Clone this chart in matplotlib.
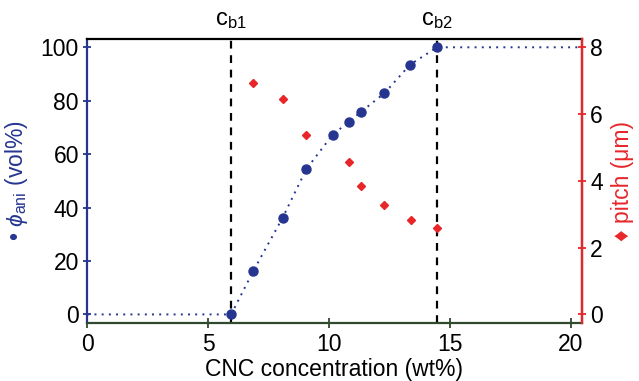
import matplotlib.pyplot as plt
import numpy as np

plt.rcParams['font.family'] = ['Liberation Sans', 'DejaVu Sans']
plt.rcParams['mathtext.fontset'] = 'custom'
plt.rcParams['mathtext.rm'] = 'Liberation Sans'
plt.rcParams['mathtext.it'] = 'Liberation Sans:italic'

# phi_ani (vol%) vs CNC concentration
conc_ani = [5.95, 6.87, 8.08, 9.06, 10.15, 10.81, 11.32, 12.29, 13.35, 14.47]
phi_ani = [0.0, 16.3, 36.2, 54.4, 67.3, 72.0, 75.8, 82.8, 93.5, 100.0]

# pitch (um) vs CNC concentration
conc_pitch = [6.87, 8.08, 9.06, 10.83, 11.32, 12.29, 13.37, 14.47]
pitch = [6.93, 6.45, 5.37, 4.57, 3.84, 3.27, 2.82, 2.60]

c_b1, c_b2 = 5.95, 14.47

blue = '#26358f'
red = '#e8262a'
green = '#2f4a2f'

fig = plt.figure(figsize=(6.39, 3.81), dpi=100)
ax = fig.add_axes([0.1366, 0.153, 0.9103 - 0.1366, 0.8976 - 0.153])
ax2 = ax.twinx()

# guide line through the fraction data
xl = [0] + conc_ani + [20.45]
yl = [0] + phi_ani + [100]
ax.plot(xl, yl, color=blue, lw=1.4, linestyle=(0, (1, 2.7)), zorder=2)
ax.plot(conc_ani, phi_ani, 'o', color=blue, ms=6.5, zorder=4)

ax.axvline(c_b1, color='black', lw=1.6, linestyle=(0, (3.5, 3)), zorder=1)
ax.axvline(c_b2, color='black', lw=1.6, linestyle=(0, (3.5, 3)), zorder=1)

ax2.plot(conc_pitch, pitch, 'D', color=red, ms=4.5, zorder=4)

ax.set_xlim(0, 20.45)
ax.set_ylim(-3.1, 103.1)
ax2.set_ylim(-3.1 * 0.08, 103.1 * 0.08)
ax.set_xticks([0, 5, 10, 15, 20])
ax.set_yticks([0, 20, 40, 60, 80, 100])
ax2.set_yticks([0, 2, 4, 6, 8])

for a in (ax, ax2):
    for s in a.spines.values():
        s.set_linewidth(1.6)
ax.spines['left'].set_color(blue)
ax.spines['bottom'].set_color(green)
ax.spines['top'].set_color('black')
ax2.spines['right'].set_color(red)
ax2.spines['left'].set_visible(False)
ax2.spines['bottom'].set_visible(False)
ax2.spines['top'].set_visible(False)

ax.tick_params(axis='x', direction='inout', length=7, width=1.3, colors=green,
               labelcolor='black', labelsize=16.5, pad=4)
ax.tick_params(axis='y', direction='inout', length=6, width=1.3, colors=blue,
               labelcolor='black', labelsize=16.5, pad=3)
ax2.tick_params(axis='y', direction='inout', length=6, width=1.3, colors=red,
                labelcolor='black', labelsize=16.5, pad=3)

ax.set_xlabel('CNC concentration (wt%)', fontsize=16.5, labelpad=1)
ax.set_ylabel('\u2022 $\\phi_{\\mathrm{ani}}$ (vol%)', color=blue, fontsize=16.5, labelpad=8)
ax2.set_ylabel('\u2666 pitch (\u03bcm)', color=red, fontsize=16.5, labelpad=6)

ax.text(c_b1, 1.03, r'$\mathrm{c_{b1}}$', transform=ax.get_xaxis_transform(),
        ha='center', va='bottom', fontsize=17)
ax.text(c_b2, 1.03, r'$\mathrm{c_{b2}}$', transform=ax.get_xaxis_transform(),
        ha='center', va='bottom', fontsize=17)

fig.savefig('out.png', dpi=100)
